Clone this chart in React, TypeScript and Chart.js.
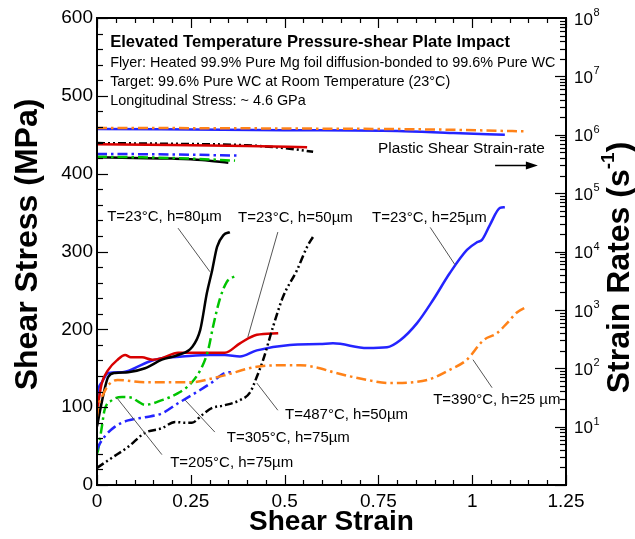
import React, { useEffect, useRef } from 'react';
import { Chart, registerables } from 'chart.js';

Chart.register(...registerables);

const F = '"Liberation Sans", Arial, Helvetica, sans-serif';

// ---------- Shear stress curves (MPa) vs shear strain ----------
const strain80 = [0, 0.01, 0.03, 0.048, 0.083, 0.128, 0.173, 0.216, 0.253, 0.275, 0.293, 0.307, 0.32, 0.337, 0.354];
const stress80 = [75, 100, 139, 144, 145, 150, 161, 167, 177, 199, 247, 276, 306, 321, 325];

const strain50 = [0, 0.005, 0.013, 0.03, 0.055, 0.075, 0.09, 0.12, 0.147, 0.173, 0.216, 0.253, 0.341, 0.381, 0.426, 0.483];
const stress50 = [90, 110, 131, 148, 161, 167, 164, 164, 161, 163, 170, 170, 170, 182, 193, 195];

const strain25 = [0, 0.003, 0.013, 0.03, 0.067, 0.1, 0.136, 0.173, 0.227, 0.3, 0.341, 0.381, 0.426, 0.514, 0.594, 0.629, 0.72, 0.773, 0.808, 0.853, 0.896, 0.94, 0.986, 1.013, 1.026, 1.047, 1.074, 1.087];
const stress25 = [110, 122, 132, 144, 145, 150, 158, 163, 165, 167, 167, 165, 173, 180, 181, 182, 176, 177, 186, 208, 238, 272, 302, 312, 315, 334, 356, 357];

const strain390 = [0, 0.003, 0.013, 0.03, 0.055, 0.128, 0.2, 0.253, 0.307, 0.341, 0.426, 0.514, 0.541, 0.594, 0.629, 0.72, 0.78, 0.88, 0.94, 0.986, 1.03, 1.066, 1.093, 1.12, 1.146];
const stress390 = [88, 100, 113, 128, 135, 132, 132, 132, 137, 141, 152, 154, 154, 150, 145, 135, 131, 135, 148, 161, 186, 195, 208, 222, 229];

const strain305 = [0, 0.003, 0.013, 0.02, 0.04, 0.067, 0.093, 0.11, 0.128, 0.173, 0.216, 0.253, 0.28, 0.296, 0.31, 0.328, 0.346, 0.358, 0.368];
const stress305 = [40, 45, 75, 96, 109, 113, 112, 107, 103, 109, 118, 132, 152, 173, 205, 240, 261, 266, 268];

const strain487 = [0, 0.003, 0.02, 0.048, 0.083, 0.128, 0.173, 0.216, 0.261, 0.307, 0.341, 0.363];
const stress487 = [45, 49, 62, 75, 83, 87, 92, 105, 118, 132, 144, 145];

const strain205 = [0, 0.003, 0.04, 0.083, 0.128, 0.173, 0.208, 0.235, 0.253, 0.28, 0.307, 0.336, 0.381, 0.408, 0.426, 0.443, 0.469, 0.496, 0.533, 0.56, 0.576];
const stress205 = [22, 23, 35, 49, 67, 73, 81, 80, 80, 90, 99, 102, 109, 119, 139, 161, 203, 242, 276, 306, 319];

// ---------- Plastic shear strain-rate curves (1/s) ----------
const rStrain80 = [0, 0.1, 0.2, 0.28, 0.35];
const rate80 = [4.1e5, 4.0e5, 3.9e5, 3.7e5, 3.3e5];
const rStrain305 = [0, 0.12, 0.25, 0.368];
const rate305 = [4.2e5, 4.1e5, 3.9e5, 3.6e5];
const rStrain487 = [0, 0.2, 0.373];
const rate487 = [4.7e5, 4.6e5, 4.4e5];
const rStrain50 = [0, 0.2, 0.4, 0.56];
const rate50 = [6.9e5, 6.7e5, 6.4e5, 6.1e5];
const rStrain205 = [0, 0.2, 0.4, 0.5, 0.576];
const rate205 = [7.2e5, 7.0e5, 6.6e5, 5.9e5, 5.1e5];
const rStrain25 = [0, 0.5, 0.8, 0.95, 1.087];
const rate25 = [1.26e6, 1.2e6, 1.16e6, 1.07e6, 1.0e6];
const rStrain390 = [0, 0.5, 0.9, 1.146];
const rate390 = [1.31e6, 1.28e6, 1.23e6, 1.14e6];

// ---------- Axis ticks ----------
const xTickValues = [0, 0.25, 0.5, 0.75, 1, 1.25];
const xTickLabels = ['0', '0.25', '0.5', '0.75', '1', '1.25'];
const yTickValues = [0, 100, 200, 300, 400, 500, 600];
const yTickLabels = ['0', '100', '200', '300', '400', '500', '600'];
const rateTickExponents = [1, 2, 3, 4, 5, 6, 7, 8];

// ---------- Text ----------
const infoLines = [
  'Elevated Temperature Pressure-shear Plate Impact',
  'Flyer: Heated 99.9% Pure Mg foil diffusion-bonded to 99.6% Pure WC',
  'Target: 99.6% Pure WC at Room Temperature (23°C)',
  'Longitudinal Stress: ~ 4.6 GPa',
];
const curveLabels = ['T=23°C, h=80µm', 'T=23°C, h=50µm', 'T=23°C, h=25µm', 'T=390°C, h=25 µm', 'T=487°C, h=50µm', 'T=305°C, h=75µm', 'T=205°C, h=75µm'];
// label anchor (strain, stress) and leader line endpoints (strain, stress)
const labelStrain = [0.027, 0.376, 0.733, 0.896, 0.501, 0.346, 0.195];
const labelStress = [344, 343, 343, 109, 90, 60, 28];
const leaderFromStrain = [0.216, 0.482, 0.888, 1.002, 0.426, 0.235, 0.053];
const leaderFromStress = [330, 325, 331, 161, 131, 109, 112];
const leaderToStrain = [0.301, 0.402, 0.954, 1.053, 0.482, 0.314, 0.173];
const leaderToStress = [274, 190, 283, 125, 96, 68, 39];

const RED = '#d80000';
const BLUE = '#2424ff';
const GREEN = '#00c400';
const ORANGE = '#ff8218';
const BLACK = '#000000';
const DASHDOT = [10, 4, 2.5, 4];
const DASHDOTDOT = [8, 3, 2, 3, 2, 3];

function series(xs: number[], ys: number[], color: string, dash: number[], axis: string) {
  return {
    data: xs.map((x, i) => ({ x, y: ys[i] })),
    borderColor: color,
    backgroundColor: color,
    borderWidth: 2.5,
    borderDash: dash,
    pointRadius: 0,
    fill: false,
    cubicInterpolationMode: 'monotone' as const,
    yAxisID: axis,
  };
}

const decor = {
  id: 'decor',
  afterDraw(chart: any) {
    const { ctx, chartArea: a, scales } = chart;
    const xs = scales.x, ys = scales.y, y2 = scales.y2;
    const line = (x1: number, y1: number, x2: number, y2p: number) => {
      ctx.beginPath();
      ctx.moveTo(x1, y1);
      ctx.lineTo(x2, y2p);
      ctx.stroke();
    };
    ctx.save();
    ctx.strokeStyle = '#000';
    ctx.lineWidth = 1.2;
    // x ticks (bottom & top), inward
    for (let i = 0; i <= 25; i++) {
      const px = Math.round(xs.getPixelForValue(i * 0.05)) + 0.5;
      const len = i % 5 === 0 ? 10 : 5;
      line(px, a.bottom, px, a.bottom - len);
      line(px, a.top, px, a.top + len);
    }
    // left y ticks
    for (let i = 0; i <= 30; i++) {
      const py = Math.round(ys.getPixelForValue(i * 20)) + 0.5;
      const len = i % 5 === 0 ? 11 : 6;
      line(a.left, py, a.left + len, py);
    }
    // right log ticks
    for (let e = 0; e < 8; e++) {
      for (let m = 1; m <= 9; m++) {
        const py = Math.round(y2.getPixelForValue(m * Math.pow(10, e))) + 0.5;
        const len = m === 1 ? 11 : 6;
        line(a.right, py, a.right - len, py);
      }
    }
    // frame
    ctx.lineWidth = 2;
    ctx.strokeRect(a.left, a.top, a.right - a.left, a.bottom - a.top);

    // right axis labels 10^n
    ctx.fillStyle = '#000';
    ctx.textBaseline = 'middle';
    ctx.textAlign = 'left';
    for (const e of rateTickExponents) {
      const py = y2.getPixelForValue(Math.pow(10, e));
      ctx.font = `17px ${F}`;
      ctx.fillText('10', a.right + 8, py + 2);
      const w = ctx.measureText('10').width;
      ctx.font = `11px ${F}`;
      ctx.fillText(String(e), a.right + 8 + w + 0.5, py - 5);
    }

    // axis titles
    ctx.textAlign = 'center';
    ctx.font = `bold 32px ${F}`;
    ctx.save();
    ctx.translate(28, (a.top + a.bottom) / 2 - 7);
    ctx.rotate(-Math.PI / 2);
    ctx.fillText('Shear Stress (MPa)', 0, 0);
    ctx.restore();
    ctx.font = `bold 28px ${F}`;
    ctx.fillText('Shear Strain', (a.left + a.right) / 2, 522);

    // right title with superscript
    ctx.save();
    ctx.translate(620, (a.top + a.bottom) / 2 + 16);
    ctx.rotate(-Math.PI / 2);
    ctx.textAlign = 'left';
    const p1 = 'Strain Rates (s';
    const p2 = '-1';
    const p3 = ')';
    ctx.font = `bold 32px ${F}`;
    const w1 = ctx.measureText(p1).width;
    const w3 = ctx.measureText(p3).width;
    ctx.font = `bold 19px ${F}`;
    const w2 = ctx.measureText(p2).width;
    let cx = -(w1 + w2 + w3) / 2;
    ctx.font = `bold 32px ${F}`;
    ctx.fillText(p1, cx, 0);
    cx += w1;
    ctx.font = `bold 19px ${F}`;
    ctx.fillText(p2, cx, -11);
    cx += w2;
    ctx.font = `bold 32px ${F}`;
    ctx.fillText(p3, cx, 0);
    ctx.restore();

    // info text block
    ctx.textAlign = 'left';
    const infoStress = [569, 542, 517.5, 493.5];
    infoLines.forEach((t, i) => {
      ctx.font = i === 0 ? `bold 16.6px ${F}` : `14.4px ${F}`;
      ctx.fillText(t, xs.getPixelForValue(0.035), ys.getPixelForValue(infoStress[i]));
    });

    // strain-rate note + arrow
    ctx.font = `15.4px ${F}`;
    ctx.fillText('Plastic Shear Strain-rate', xs.getPixelForValue(0.749), ys.getPixelForValue(432));
    const ay = Math.round(ys.getPixelForValue(411)) + 0.5;
    const ax1 = xs.getPixelForValue(1.061);
    const ax2 = xs.getPixelForValue(1.175);
    ctx.lineWidth = 1.5;
    line(ax1, ay, ax2 - 8, ay);
    ctx.beginPath();
    ctx.moveTo(ax2, ay);
    ctx.lineTo(ax2 - 12, ay - 4);
    ctx.lineTo(ax2 - 12, ay + 4);
    ctx.closePath();
    ctx.fill();

    // curve labels + leaders
    ctx.strokeStyle = '#555';
    ctx.lineWidth = 1;
    ctx.font = `15px ${F}`;
    curveLabels.forEach((t, i) => {
      line(
        xs.getPixelForValue(leaderFromStrain[i]), ys.getPixelForValue(leaderFromStress[i]),
        xs.getPixelForValue(leaderToStrain[i]), ys.getPixelForValue(leaderToStress[i])
      );
      ctx.fillText(t, xs.getPixelForValue(labelStrain[i]), ys.getPixelForValue(labelStress[i]));
    });
    ctx.restore();
  },
};

export default function App() {
  const ref = useRef<HTMLCanvasElement | null>(null);
  useEffect(() => {
    document.body.style.margin = '0';
    const canvas = ref.current!;
    const chart = new Chart(canvas, {
      type: 'line',
      data: {
        datasets: [
          series(strain390, stress390, ORANGE, DASHDOT, 'y'),
          series(strain205, stress205, BLACK, DASHDOTDOT, 'y'),
          series(strain487, stress487, BLUE, DASHDOT, 'y'),
          series(strain305, stress305, GREEN, DASHDOT, 'y'),
          series(strain80, stress80, BLACK, [], 'y'),
          series(strain50, stress50, RED, [], 'y'),
          series(strain25, stress25, BLUE, [], 'y'),
          series(rStrain390, rate390, ORANGE, DASHDOT, 'y2'),
          series(rStrain25, rate25, BLUE, [], 'y2'),
          series(rStrain50, rate50, RED, [], 'y2'),
          series(rStrain205, rate205, BLACK, DASHDOTDOT, 'y2'),
          series(rStrain487, rate487, BLUE, DASHDOT, 'y2'),
          series(rStrain305, rate305, GREEN, DASHDOT, 'y2'),
          series(rStrain80, rate80, BLACK, [], 'y2'),
        ] as any,
      },
      options: {
        responsive: false,
        animation: false,
        devicePixelRatio: 1,
        layout: { padding: { top: 18, left: 0, right: 0, bottom: 0 } },
        plugins: { legend: { display: false }, tooltip: { enabled: false } },
        scales: {
          x: {
            type: 'linear',
            min: 0,
            max: 1.25,
            grid: { display: false, drawTicks: false },
            border: { display: false },
            afterBuildTicks: (s: any) => { s.ticks = xTickValues.map((v) => ({ value: v })); },
            afterFit: (s: any) => { s.height = 54; },
            ticks: {
              color: '#000',
              font: { family: F, size: 19 },
              padding: 5,
              maxRotation: 0,
              autoSkip: false,
              callback: (v: any, i: number) => xTickLabels[i],
            },
          },
          y: {
            type: 'linear',
            position: 'left',
            min: 0,
            max: 600,
            grid: { display: false, drawTicks: false },
            border: { display: false },
            afterBuildTicks: (s: any) => { s.ticks = yTickValues.map((v) => ({ value: v })); },
            afterFit: (s: any) => { s.width = 97; },
            ticks: {
              color: '#000',
              font: { family: F, size: 19 },
              padding: 4,
              autoSkip: false,
              callback: (v: any, i: number) => yTickLabels[i],
            },
          },
          y2: {
            type: 'logarithmic',
            position: 'right',
            min: 1,
            max: 1e8,
            grid: { display: false, drawTicks: false },
            border: { display: false },
            afterFit: (s: any) => { s.width = 69; },
            ticks: { display: false },
          },
        },
      } as any,
      plugins: [decor],
    });
    return () => chart.destroy();
  }, []);
  return <canvas ref={ref} width={635} height={539} style={{ display: 'block' }} />;
}
